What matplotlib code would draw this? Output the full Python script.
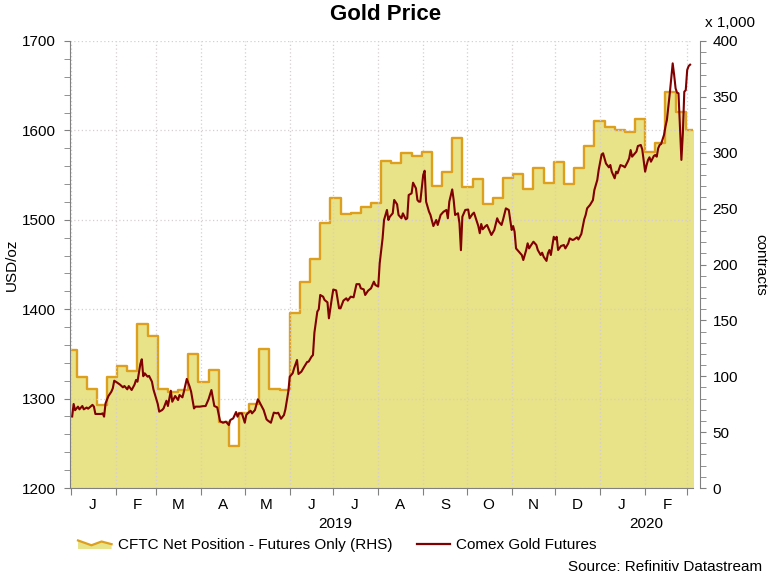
import matplotlib
matplotlib.use("Agg")
import matplotlib.pyplot as plt
import matplotlib.dates as mdates
from matplotlib.ticker import MultipleLocator, NullFormatter, FuncFormatter
from matplotlib.legend_handler import HandlerBase
from matplotlib.patches import Polygon
from matplotlib.lines import Line2D
import pandas as pd

plt.rcParams['font.family'] = ['Liberation Sans', 'DejaVu Sans']

# ---------------- data ----------------
gold_dates = [
    "2019-01-02", "2019-01-03", "2019-01-04", "2019-01-06", "2019-01-07", "2019-01-09", "2019-01-10", "2019-01-12",
    "2019-01-13", "2019-01-16", "2019-01-17", "2019-01-18", "2019-01-22", "2019-01-23", "2019-01-24", "2019-01-25",
    "2019-01-27", "2019-01-29", "2019-01-30", "2019-01-31", "2019-02-02", "2019-02-04", "2019-02-06", "2019-02-07",
    "2019-02-09", "2019-02-10", "2019-02-12", "2019-02-13", "2019-02-14", "2019-02-15", "2019-02-16", "2019-02-18",
    "2019-02-19", "2019-02-20", "2019-02-21", "2019-02-23", "2019-02-24", "2019-02-26", "2019-02-27", "2019-03-02",
    "2019-03-03", "2019-03-05", "2019-03-06", "2019-03-08", "2019-03-09", "2019-03-11", "2019-03-12", "2019-03-14",
    "2019-03-16", "2019-03-17", "2019-03-19", "2019-03-20", "2019-03-22", "2019-03-24", "2019-03-25", "2019-03-27",
    "2019-03-28", "2019-03-31", "2019-04-02", "2019-04-04", "2019-04-06", "2019-04-08", "2019-04-10", "2019-04-12",
    "2019-04-14", "2019-04-16", "2019-04-18", "2019-04-20", "2019-04-21", "2019-04-23", "2019-04-25", "2019-04-26",
    "2019-04-27", "2019-04-29", "2019-05-01", "2019-05-02", "2019-05-03", "2019-05-05", "2019-05-06", "2019-05-08",
    "2019-05-10", "2019-05-11", "2019-05-14", "2019-05-16", "2019-05-17", "2019-05-19", "2019-05-21", "2019-05-23",
    "2019-05-24", "2019-05-26", "2019-05-28", "2019-05-29", "2019-05-31", "2019-06-01", "2019-06-03", "2019-06-04",
    "2019-06-06", "2019-06-07", "2019-06-09", "2019-06-11", "2019-06-13", "2019-06-14", "2019-06-16", "2019-06-17",
    "2019-06-18", "2019-06-20", "2019-06-21", "2019-06-22", "2019-06-24", "2019-06-25", "2019-06-27", "2019-06-28",
    "2019-06-30", "2019-07-01", "2019-07-03", "2019-07-05", "2019-07-06", "2019-07-08", "2019-07-10", "2019-07-11",
    "2019-07-13", "2019-07-15", "2019-07-17", "2019-07-19", "2019-07-20", "2019-07-22", "2019-07-23", "2019-07-25",
    "2019-07-27", "2019-07-29", "2019-07-30", "2019-08-01", "2019-08-02", "2019-08-04", "2019-08-05", "2019-08-07",
    "2019-08-08", "2019-08-09", "2019-08-11", "2019-08-12", "2019-08-14", "2019-08-15", "2019-08-17", "2019-08-18",
    "2019-08-20", "2019-08-21", "2019-08-22", "2019-08-24", "2019-08-25", "2019-08-27", "2019-08-28", "2019-08-29",
    "2019-08-30", "2019-09-01", "2019-09-02", "2019-09-03", "2019-09-05", "2019-09-06", "2019-09-08", "2019-09-10",
    "2019-09-11", "2019-09-13", "2019-09-15", "2019-09-17", "2019-09-18", "2019-09-19", "2019-09-21", "2019-09-22",
    "2019-09-23", "2019-09-25", "2019-09-26", "2019-09-27", "2019-09-28", "2019-09-30", "2019-10-02", "2019-10-03",
    "2019-10-05", "2019-10-06", "2019-10-08", "2019-10-09", "2019-10-10", "2019-10-11", "2019-10-12", "2019-10-14",
    "2019-10-15", "2019-10-17", "2019-10-18", "2019-10-20", "2019-10-22", "2019-10-23", "2019-10-25", "2019-10-26",
    "2019-10-28", "2019-10-30", "2019-11-01", "2019-11-02", "2019-11-03", "2019-11-04", "2019-11-06", "2019-11-08",
    "2019-11-09", "2019-11-11", "2019-11-12", "2019-11-13", "2019-11-14", "2019-11-16", "2019-11-18", "2019-11-19",
    "2019-11-21", "2019-11-22", "2019-11-23", "2019-11-25", "2019-11-26", "2019-11-27", "2019-11-28", "2019-11-30",
    "2019-12-01", "2019-12-02", "2019-12-03", "2019-12-05", "2019-12-07", "2019-12-08", "2019-12-10", "2019-12-11",
    "2019-12-13", "2019-12-14", "2019-12-16", "2019-12-17", "2019-12-19", "2019-12-21", "2019-12-22", "2019-12-23",
    "2019-12-25", "2019-12-27", "2019-12-28", "2019-12-30", "2019-12-31", "2020-01-02", "2020-01-03", "2020-01-05",
    "2020-01-07", "2020-01-08", "2020-01-09", "2020-01-11", "2020-01-12", "2020-01-13", "2020-01-15", "2020-01-17",
    "2020-01-18", "2020-01-20", "2020-01-21", "2020-01-22", "2020-01-23", "2020-01-25", "2020-01-26", "2020-01-27",
    "2020-01-29", "2020-01-30", "2020-02-01", "2020-02-02", "2020-02-03", "2020-02-04", "2020-02-05", "2020-02-07",
    "2020-02-08", "2020-02-09", "2020-02-10", "2020-02-11", "2020-02-12", "2020-02-14", "2020-02-15", "2020-02-16",
    "2020-02-18", "2020-02-19", "2020-02-20", "2020-02-21", "2020-02-22", "2020-02-23", "2020-02-24", "2020-02-26",
    "2020-02-27", "2020-02-28", "2020-02-29", "2020-03-01", "2020-03-02", "2020-03-03",
]
gold_prices = [
    1280, 1294, 1287, 1291, 1288, 1291.7, 1288, 1290,
    1288.7, 1293, 1291, 1282.8, 1282.8, 1283.5, 1279.8, 1294.7,
    1302.9, 1307.7, 1311.5, 1320, 1317.9, 1315.6, 1312.6, 1314.1,
    1310.4, 1314, 1309.6, 1312.6, 1315.7, 1320.8, 1318.9, 1338.7,
    1344, 1325, 1328.3, 1324.5, 1325.4, 1318.9, 1310.4, 1294,
    1285.4, 1287.2, 1289, 1297.6, 1291.7, 1308.8, 1296.5, 1302.9,
    1298.4, 1304, 1301.4, 1307.7, 1322, 1313.3, 1307.7, 1289,
    1291, 1291, 1291.5, 1291.7, 1299.2, 1309.6, 1291.7, 1290.2,
    1274.6, 1273, 1274.2, 1270.4, 1276, 1277.9, 1285, 1279.8,
    1283.5, 1283.5, 1273, 1281.6, 1283.5, 1286.4, 1283.5, 1287.2,
    1299.2, 1296.5, 1287.2, 1276.8, 1275.3, 1273, 1284.3, 1283.5,
    1284.2, 1277.5, 1281.6, 1288, 1307.7, 1324.5, 1328.3, 1333.9,
    1343.2, 1327.5, 1330.1, 1335.7, 1341, 1341.3, 1346.9, 1348.7,
    1373.8, 1397.3, 1399.9, 1415.9, 1414, 1410.3, 1407.7, 1389.8,
    1412, 1422, 1421, 1401, 1401, 1409.6, 1412.2, 1409.6,
    1414, 1413.3, 1428, 1428, 1423.3, 1422.2, 1415.9, 1420.7,
    1423.3, 1430.8, 1427.1, 1425.3, 1451.3, 1479.3, 1499.8, 1511,
    1499.8, 1503.5, 1507.3, 1522.2, 1517.3, 1505.4, 1501.7, 1507.2,
    1500.5, 1501.7, 1527.7, 1529.6, 1541.5, 1535.2, 1522.2, 1520.3,
    1520.3, 1550.1, 1554.9, 1520.3, 1509.1, 1505.5, 1493, 1499.8,
    1494.2, 1505.4, 1509, 1511, 1501.7, 1520.3, 1534, 1522.2,
    1505.4, 1507.3, 1496.1, 1466, 1503.5, 1511, 1511.5, 1501.7,
    1506.5, 1508, 1497.9, 1493, 1485, 1495.3, 1489.4, 1493,
    1494.2, 1486.7, 1483, 1488.6, 1501.7, 1497.9, 1494.2, 1499.8,
    1512.8, 1511, 1488.6, 1493, 1486.7, 1468, 1464.3, 1460.5,
    1455, 1466.2, 1473.7, 1468, 1470.7, 1475.5, 1471.8, 1466.2,
    1460.6, 1463.2, 1458.7, 1454, 1462.5, 1466.2, 1460.6, 1481,
    1478, 1481, 1466.2, 1470.7, 1471.8, 1468, 1473.6, 1479.2,
    1477.4, 1478, 1480.4, 1478, 1484.1, 1500.5, 1505.4, 1512.8,
    1516.6, 1522, 1533.3, 1544.5, 1556, 1573, 1574.4, 1563,
    1558.7, 1561.3, 1553.8, 1546.4, 1553.8, 1552, 1561.2, 1560,
    1558.7, 1565, 1568.8, 1578, 1570.6, 1574.4, 1576.3, 1582.5,
    1583.7, 1578.8, 1553.8, 1561.2, 1566.9, 1569.9, 1565, 1571.4,
    1572.5, 1570.6, 1580, 1583.7, 1584.8, 1594.9, 1604.2, 1611.6,
    1641.5, 1658.3, 1675, 1662, 1647, 1642.2, 1641.5, 1567,
    1596.7, 1643.3, 1645, 1667.6, 1672, 1673.5,
]

# CFTC net position (thousand contracts), weekly, first week starting:
cftc_first_week = "2018-12-29"
cftc_values = [
    123.5, 99, 88.6, 74, 99.6, 109.5, 105, 146.5, 136, 88.6,
    86, 88, 120, 95, 105.6, 59, 38, 67, 75, 124,
    89, 88, 156.6, 184.6, 204.6, 237.4, 259.8, 245, 246.4, 251.8,
    254.8, 293, 291, 300, 297.4, 300.7, 270, 283, 313, 269.6,
    276.5, 254, 259.8, 277, 281, 268, 286.5, 272.5, 291.5, 271.7,
    286.3, 306, 328.4, 322.8, 320.4, 318.9, 330.5, 300.4, 309, 354.7,
    336.8, 320.4,
]

month_letters = ["J", "F", "M", "A", "M", "J", "J", "A", "S", "O", "N", "D"]
year_labels = ["2019", "2020"]

title = "Gold Price"
legend_labels = ["CFTC Net Position - Futures Only (RHS)", "Comex Gold Futures"]

# ---------------- styles ----------------
FILL = "#E8E288"
EDGE = "#DDA01E"
GOLD = "#800000"
AXC = "#808080"
GRIDC = "#D6CED2"

W, H = 769, 577
fig = plt.figure(figsize=(W / 100, H / 100), dpi=100)
fig.patch.set_facecolor("white")
ax = fig.add_axes([70 / W, 89 / H, 623 / W, 447 / H])
ax2 = ax.twinx()
ax.set_zorder(ax2.get_zorder() + 1)
ax.patch.set_visible(False)

# CFTC steps
wk = pd.date_range(cftc_first_week, periods=len(cftc_values), freq="7D")
wk_ext = list(wk) + [wk[-1] + pd.Timedelta(days=7)]
val_ext = list(cftc_values) + [cftc_values[-1]]
ax2.fill_between(wk_ext, val_ext, 0, step="post", color=FILL, lw=0, zorder=1)
ax2.step(wk_ext, val_ext, where="post", color=EDGE, lw=1.7, zorder=2)

# Gold line
gd = pd.to_datetime(gold_dates)
ax.plot(gd, gold_prices, color=GOLD, lw=1.5, zorder=3)

# limits
x0 = pd.Timestamp("2018-12-31 12:00")
x1 = pd.Timestamp("2020-03-05")
ax.set_xlim(x0, x1)
ax.set_ylim(1200, 1700)
ax2.set_ylim(0, 400)

# left axis
ax.yaxis.set_major_locator(MultipleLocator(100))
ax.yaxis.set_minor_locator(MultipleLocator(20))
ax.tick_params(axis="y", which="both", direction="out", length=4, color=AXC,
               labelsize=11, pad=6)
# right axis
ax2.yaxis.set_major_locator(MultipleLocator(50))
ax2.yaxis.set_minor_locator(MultipleLocator(10))
ax2.tick_params(axis="y", which="both", direction="out", length=4, color=AXC,
                labelsize=11, pad=5)

# x axis
ax.xaxis.set_major_locator(mdates.MonthLocator())
ax.xaxis.set_major_formatter(NullFormatter())
ax.xaxis.set_minor_locator(mdates.MonthLocator(bymonthday=16))
ax.xaxis.set_minor_formatter(FuncFormatter(
    lambda v, p: month_letters[mdates.num2date(v).month - 1]))
ax.tick_params(axis="x", which="major", direction="out", length=5, color=AXC)
ax.tick_params(axis="x", which="minor", length=0, labelsize=11, pad=7)

# spines
for s in ["top", "right"]:
    ax.spines[s].set_visible(False)
for s in ["left", "bottom"]:
    ax.spines[s].set_color(AXC)
for s in ["top", "left", "bottom"]:
    ax2.spines[s].set_visible(False)
ax2.spines["right"].set_color(AXC)
ax2.spines["right"].set_position(("outward", 5))

# grid
ax.grid(True, which="major", axis="both", color=GRIDC, linestyle=(0, (1, 2)), lw=0.9, zorder=0)

# year labels centered on visible portion of each year
for yl in year_labels:
    ys = max(pd.Timestamp(f"{yl}-01-01"), x0)
    ye = min(pd.Timestamp(f"{int(yl)+1}-01-01"), x1)
    mid = ys + (ye - ys) / 2
    ax.text(mid, -0.0805, yl, transform=ax.get_xaxis_transform(),
            ha="center", va="center", fontsize=11)

# texts
fig.text(386 / W, 1 - 14 / H, title, ha="center", va="center", fontsize=16, fontweight="bold")
fig.text(730 / W, 1 - 23 / H, "x 1,000", ha="center", va="center", fontsize=11)
fig.text(12 / W, 1 - 265 / H, "USD/oz", rotation=90, ha="center", va="center", fontsize=11)
fig.text(760 / W, 1 - 265 / H, "contracts", rotation=270, ha="center", va="center", fontsize=11)
fig.text(762 / W, 1 - 567 / H, "Source: Refinitiv Datastream", ha="right", va="center", fontsize=11)


# legend
class AreaProxy:
    pass


class AreaHandler(HandlerBase):
    def create_artists(self, legend, orig_handle, xdescent, ydescent, width, height, fontsize, trans):
        x0_, y0_ = -xdescent, -ydescent
        xs = [0.0, 0.4, 0.7, 1.0]
        ys = [0.8, 0.35, 0.7, 0.45]
        top = [(x0_ + a * width, y0_ + b * height) for a, b in zip(xs, ys)]
        poly = Polygon(top + [(x0_ + width, y0_), (x0_, y0_)], closed=True,
                       facecolor=FILL, edgecolor="none", transform=trans)
        line = Line2D([p[0] for p in top], [p[1] for p in top], color=EDGE, lw=1.6, transform=trans)
        return [poly, line]


handles = [AreaProxy(), Line2D([], [], color=GOLD, lw=1.6)]
fig.legend(handles, legend_labels, loc="center left", bbox_to_anchor=(78 / W, 1 - 545 / H),
           ncol=2, frameon=False, fontsize=11, handlelength=2.2, handletextpad=0.4,
           columnspacing=1.6, borderpad=0, borderaxespad=0,
           handler_map={AreaProxy: AreaHandler()})

fig.savefig("out.png", dpi=100, facecolor="white")
